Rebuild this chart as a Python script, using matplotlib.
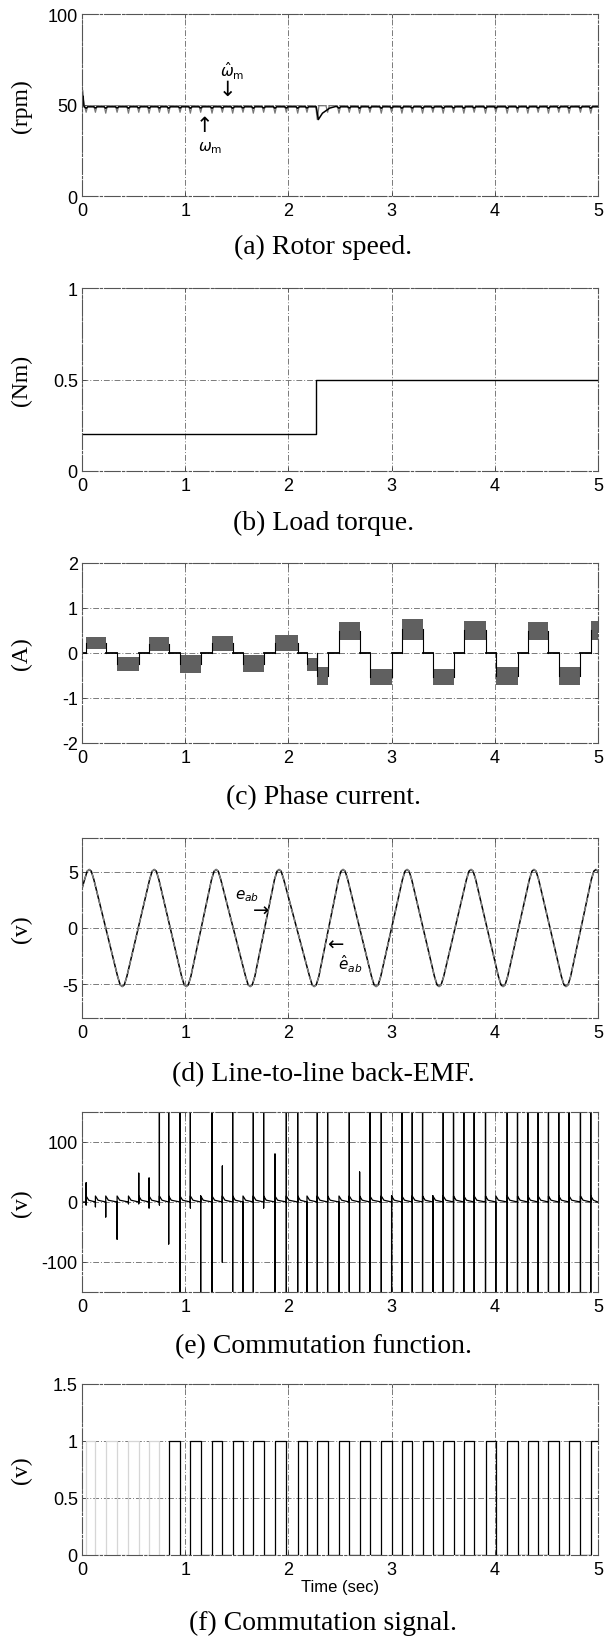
import numpy as np
import matplotlib
matplotlib.use('Agg')
import matplotlib.pyplot as plt

plt.rcParams['font.family'] = ['Liberation Sans', 'DejaVu Sans']
plt.rcParams['mathtext.fontset'] = 'dejavusans'

# ---------------- data ----------------
x_ticks = [0, 1, 2, 3, 4, 5]
x_tick_labels = ['0', '1', '2', '3', '4', '5']

# commutation instants (s)
comm_times = [0.04, 0.13, 0.23, 0.34, 0.45, 0.55, 0.65, 0.75, 0.84, 0.95,
              1.05, 1.15, 1.26, 1.36, 1.46, 1.56, 1.66, 1.76, 1.87, 1.98,
              2.09, 2.18, 2.28, 2.38, 2.49, 2.59, 2.69, 2.79, 2.90, 3.00,
              3.10, 3.20, 3.30, 3.40, 3.50, 3.60, 3.70, 3.80, 3.91, 4.01,
              4.12, 4.22, 4.32, 4.42, 4.52, 4.62, 4.72, 4.83, 4.93]

# (a) rotor speed (rpm)
speed_est_base = 49.6
speed_act_base = 49.0
speed_start_peak = 58.0
speed_est_dips = [46, 46, 45.5, 46, 45.5, 46, 45.5, 46, 45.5, 46,
                  45.5, 46, 45.5, 46, 45.5, 46, 45.5, 46, 45.5, 46,
                  45.5, 46, 42, 46, 45.5, 46, 45.5, 46, 45.5, 46,
                  45.5, 46, 45.5, 46, 45.5, 46, 45.5, 46, 45.5, 46,
                  45.5, 46, 45.5, 46, 45.5, 46, 45.5, 46, 45.5]
speed_act_dips = [48.2, 48.3, 48.2, 48.3, 48.2, 48.3, 48.2, 48.3, 48.2, 48.3,
                  48.2, 48.3, 48.2, 48.3, 48.2, 48.3, 48.2, 48.3, 48.2, 48.3,
                  48.2, 48.3, 43.0, 48.3, 48.2, 48.3, 48.2, 48.3, 48.2, 48.3,
                  48.2, 48.3, 48.2, 48.3, 48.2, 48.3, 48.2, 48.3, 48.2, 48.3,
                  48.2, 48.3, 48.2, 48.3, 48.2, 48.3, 48.2, 48.3, 48.2]
speed_recov_t = [2.27, 2.29, 2.33, 2.40, 2.46]
speed_recov_v = [49.0, 42.0, 45.5, 48.3, 49.2]

# (b) load torque (Nm)
load_step_time = 2.27
load_before = 0.2
load_after = 0.5

# (c) phase current blocks (A)
cur_start = [0.04, 0.34, 0.65, 0.95, 1.26, 1.56, 1.87, 2.18, 2.28, 2.49,
             2.79, 3.10, 3.40, 3.70, 4.01, 4.32, 4.62, 4.93]
cur_end = [0.23, 0.55, 0.84, 1.15, 1.46, 1.76, 2.09, 2.28, 2.38, 2.69,
           3.00, 3.30, 3.60, 3.91, 4.22, 4.52, 4.83, 5.00]
cur_lo = [0.08, -0.40, 0.05, -0.45, 0.05, -0.42, 0.05, -0.40, -0.70, 0.30,
          -0.72, 0.30, -0.70, 0.30, -0.72, 0.30, -0.70, 0.30]
cur_hi = [0.35, -0.08, 0.35, -0.05, 0.38, -0.05, 0.40, -0.10, -0.30, 0.68,
          -0.35, 0.75, -0.35, 0.72, -0.30, 0.68, -0.30, 0.72]

# (d) line-to-line back-EMF (v)
emf_start = 3.5
emf_amp = 5.2
emf_peak_t = [0.07, 0.70, 1.30, 1.91, 2.53, 3.15, 3.77, 4.38, 4.98]
emf_trough_t = [0.39, 1.01, 1.63, 2.25, 2.85, 3.46, 4.08, 4.69]

# (e) commutation function: spike extremes per commutation (v)
comm_hi = [32, 5, 3, 3, 8, 48, 40, 150, 150, 150,
           150, 10, 150, 60, 150, 5, 150, 150, 80, 150,
           150, 5, 150, 150, 5, 150, 50, 150, 150, 10,
           150, 150, 150, 10, 150, 150, 150, 150, 150, 5,
           150, 150, 150, 150, 150, 150, 150, 150, 150]
comm_lo = [-5, -8, -25, -62, -3, -3, -10, -5, -70, -150,
           -10, -150, -150, -100, -150, -150, -150, -10, -150, -150,
           -150, -150, -150, -150, -150, -150, -150, -150, -150, -150,
           -150, -150, -150, -150, -150, -150, -150, -150, -150, -150,
           -150, -150, -150, -150, -150, -150, -150, -150, -150]
comm_ripple = 10

# (f) commutation signal level after each commutation
comm_level = [1, 0, 1, 0, 1, 0, 1, 0, 1, 0,
              1, 0, 1, 0, 1, 0, 1, 0, 1, 0,
              1, 0, 1, 0, 1, 0, 1, 0, 1, 0,
              1, 0, 1, 0, 1, 0, 1, 0, 1, 0,
              1, 0, 1, 0, 1, 0, 1, 0, 1]
faint_before = 8  # first events drawn faint

# ---------------- figure ----------------
W, H = 605, 1649
fig = plt.figure(figsize=(W / 100, H / 100), dpi=100)

left_px, right_px = 82, 598
panels = [(15, 197), (289, 472), (564, 744), (839, 1019), (1113, 1293), (1385, 1556)]
captions = ['(a) Rotor speed.', '(b) Load torque.', '(c) Phase current.',
            '(d) Line-to-line back-EMF.', '(e) Commutation function.',
            '(f) Commutation signal.']
caption_y = [247, 523, 798, 1075, 1347, 1623]
ylabels = ['(rpm)', '(Nm)', '(A)', '(v)', '(v)', '(v)']
ylims = [(0, 100), (0, 1), (-2, 2), (-8, 8), (-150, 150), (0, 1.5)]
yticks = [[0, 50, 100], [0, 0.5, 1], [-2, -1, 0, 1, 2], [-5, 0, 5],
          [-100, 0, 100], [0, 0.5, 1, 1.5]]
ytick_labels = [['0', '50', '100'], ['0', '0.5', '1'], ['-2', '-1', '0', '1', '2'],
                ['-5', '0', '5'], ['-100', '0', '100'], ['0', '0.5', '1', '1.5']]

serif = ['Liberation Serif', 'DejaVu Serif']
arrow_font = ['DejaVu Sans']
axes = []
for i, (top, bot) in enumerate(panels):
    ax = fig.add_axes([left_px / W, 1 - bot / H, (right_px - left_px) / W, (bot - top) / H])
    ax.set_xlim(0, 5)
    ax.set_ylim(*ylims[i])
    ax.set_xticks(x_ticks)
    ax.set_xticklabels(x_tick_labels)
    ax.set_yticks(yticks[i])
    ax.set_yticklabels(ytick_labels[i])
    ax.tick_params(direction='in', length=3, width=0.6, labelsize=13,
                   top=True, right=True, color='#444444')
    ax.tick_params(axis='x', pad=4)
    ax.tick_params(axis='y', pad=3)
    ax.grid(True, linestyle=(0, (6, 2, 1, 2)), color='#7a7a7a', linewidth=0.7)
    ax.set_axisbelow(True)
    for sp in ax.spines.values():
        sp.set_linewidth(0.8)
        sp.set_color('#555555')
        sp.set_linestyle((0, (14, 2, 2, 2)))
    fig.text(0.534, 1 - caption_y[i] / H, captions[i], ha='center', va='center',
             fontsize=20, family=serif)
    fig.text(21 / W, 1 - (top + bot) / 2 / H, ylabels[i], rotation=90,
             ha='center', va='center', fontsize=17, family=serif)
    axes.append(ax)

# (a) speed
ax = axes[0]
half = 0.016
te, ve = [0.0, 0.008, 0.02], [speed_start_peak - 4, speed_start_peak, speed_est_base]
ta, va = [0.0, 0.008, 0.02], [speed_start_peak - 6, speed_start_peak - 3, speed_act_base]
for t, de, da in zip(comm_times, speed_est_dips, speed_act_dips):
    te += [t - half, t, t + half]
    ve += [speed_est_base, de, speed_est_base]
    if speed_recov_t[0] <= t <= speed_recov_t[-1]:
        continue
    ta += [t - half, t, t + half]
    va += [speed_act_base, da, speed_act_base]
ta += speed_recov_t
va += speed_recov_v
order = np.argsort(ta)
ta = np.array(ta)[order]
va = np.array(va)[order]
te += [5.0]
ve += [speed_est_base]
ta = np.append(ta, 5.0)
va = np.append(va, speed_act_base)
ax.plot(te, ve, color='#777777', lw=0.9)
ax.plot(ta, va, color='black', lw=1.1)
ax.text(1.46, 69, r'$\hat{\omega}_{\mathrm{m}}$', fontsize=11, ha='center', va='center')
ax.text(1.41, 59, '\u2193', fontsize=15, ha='center', va='center', family=arrow_font)
ax.text(1.19, 39, '\u2191', fontsize=15, ha='center', va='center', family=arrow_font)
ax.text(1.24, 27.0, r'$\omega_{\mathrm{m}}$', fontsize=11, ha='center', va='center')

# (b) load torque
ax = axes[1]
ax.step([0, load_step_time, 5], [load_before, load_after, load_after], where='post',
        color='black', lw=1.0)

# (c) phase current
ax = axes[2]
prev_end = 0.0
for s, e, lo, hi in zip(cur_start, cur_end, cur_lo, cur_hi):
    if s - prev_end > 1e-3:
        ax.plot([prev_end, s], [0, 0], color='black', lw=1.3)
    ax.fill_between([s, e], [lo, lo], [hi, hi], color='#606060', lw=0)
    ax.plot([s, s], [0, (lo + hi) / 2], color='black', lw=0.8)
    ax.plot([e, e], [0, (lo + hi) / 2], color='black', lw=0.8)
    prev_end = e
if prev_end < 5:
    ax.plot([prev_end, 5], [0, 0], color='black', lw=1.3)

# (d) back-EMF
ax = axes[3]
kt, kv = [0.0], [emf_start]
for p in emf_peak_t:
    kt += [p - 0.045, p - 0.02, p, p + 0.02, p + 0.045]
    kv += [emf_amp - 0.9, emf_amp - 0.15, emf_amp, emf_amp - 0.15, emf_amp - 0.9]
for q in emf_trough_t:
    kt += [q - 0.045, q - 0.02, q, q + 0.02, q + 0.045]
    kv += [-emf_amp + 0.9, -emf_amp + 0.15, -emf_amp, -emf_amp + 0.15, -emf_amp + 0.9]
order = np.argsort(kt)
kt = np.array(kt)[order]
kv = np.array(kv)[order]
ax.plot(kt, kv, color='black', lw=1.1)
ax.plot(kt, kv, color='#8a8a8a', lw=0.9, linestyle=(0, (4, 3)))
ax.text(1.60, 2.9, r'$e_{ab}$', fontsize=11, ha='center', va='center')
ax.text(1.74, 1.6, '\u2192', fontsize=14, ha='center', va='center', family=arrow_font)
ax.text(2.45, -1.4, '\u2190', fontsize=14, ha='center', va='center', family=arrow_font)
ax.text(2.60, -3.1, r'$\hat{e}_{ab}$', fontsize=11, ha='center', va='center')

# (e) commutation function
ax = axes[4]
ft, fv = [0.0], [0.0]
for k, (t, hi, lo) in enumerate(zip(comm_times, comm_hi, comm_lo)):
    nxt = comm_times[k + 1] if k + 1 < len(comm_times) else 5.0
    ft += [t, t, t, t, t + 0.025, nxt - 0.002]
    fv += [0, hi, lo, comm_ripple, 3, 0]
ax.plot(ft, fv, color='black', lw=0.9)
ax.set_ylim(-150, 150)

# (f) commutation signal
ax = axes[5]
st, sv = [0.0], [0.0]
for t, lvl in zip(comm_times, comm_level):
    st += [t, t]
    sv += [sv[-1], lvl]
st.append(5.0)
sv.append(sv[-1])
cut = 1 + 2 * faint_before
ax.plot(st[:cut + 1], sv[:cut + 1], color='#d6d6d6', lw=0.9)
ax.plot(st[cut:], sv[cut:], color='black', lw=0.9)
fig.text(340 / W, 1 - 1588 / H, 'Time (sec)', ha='center', va='center', fontsize=12)

fig.savefig('out.png', dpi=100)
